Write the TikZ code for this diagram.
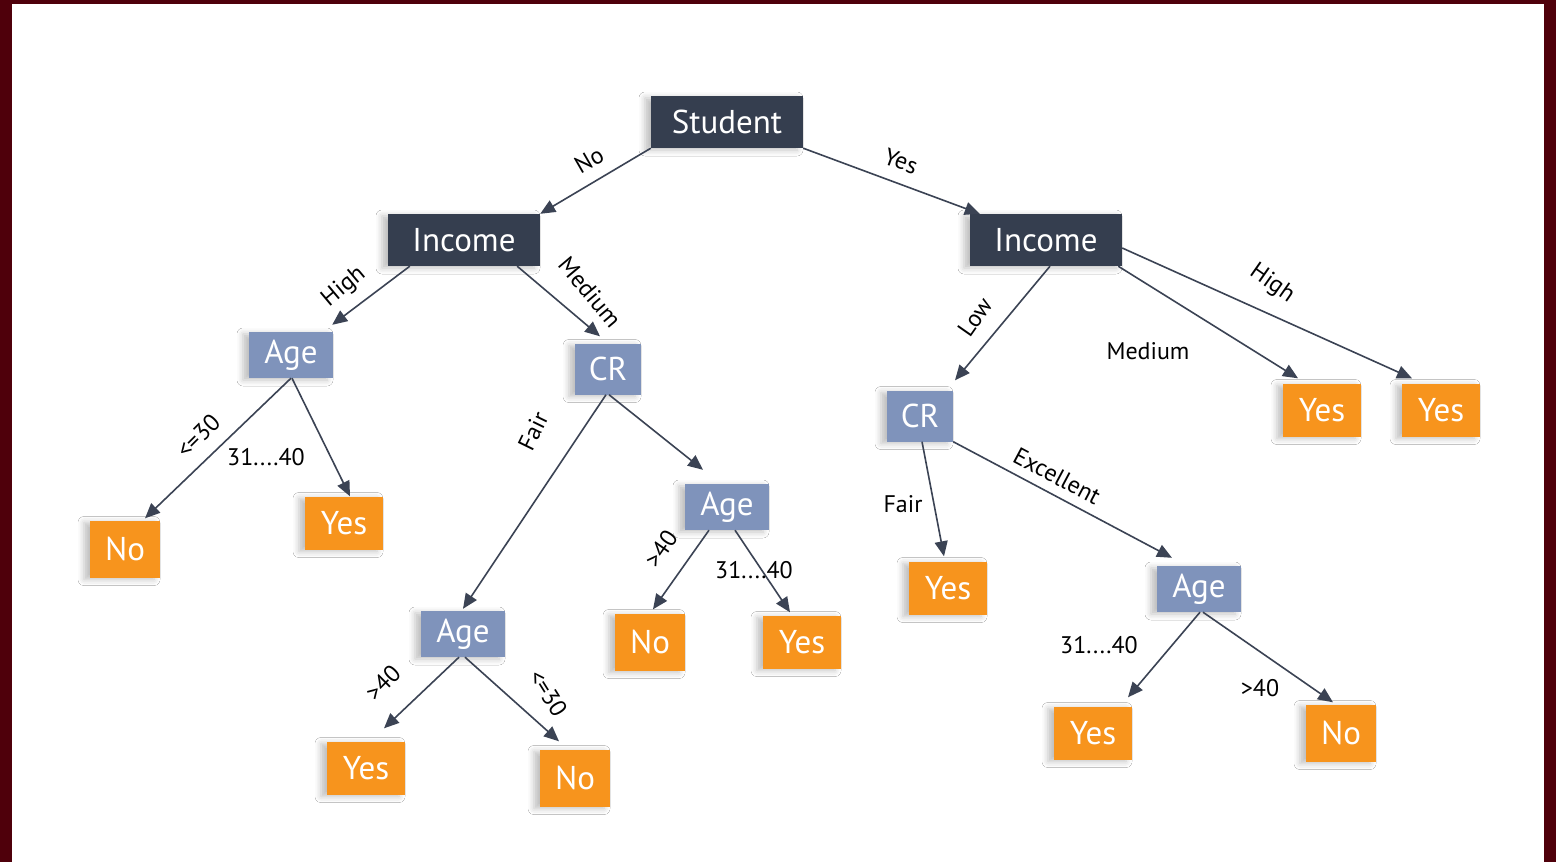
\documentclass[tikz,border=0pt]{standalone}
\usepackage{fontspec}
\setmainfont{PT Sans}
\usetikzlibrary{arrows.meta,shadows.blur}
\definecolor{framec}{HTML}{4F000B}
\definecolor{darkc}{HTML}{353E4F}
\definecolor{midc}{HTML}{7F93BB}
\definecolor{orgc}{HTML}{F7941D}
\definecolor{lnc}{HTML}{3B4354}
\begin{document}
\begin{tikzpicture}[x=1pt,y=-1pt,
  box/.style={inner sep=0pt, text=white, font=\fontsize{33}{33}\selectfont,
    blur shadow={shadow xshift=-6pt,shadow yshift=-2pt,shadow blur radius=6pt,shadow opacity=25}},
  dbox/.style={box, fill=darkc, minimum width=152pt, minimum height=52pt},
  agebox/.style={box, fill=midc, minimum width=84pt, minimum height=46pt},
  crbox/.style={box, fill=midc, minimum width=66pt, minimum height=51pt},
  yesbox/.style={box, fill=orgc, minimum width=78pt, minimum height=53pt},
  nobox/.style={box, fill=orgc, minimum width=70pt, minimum height=57pt},
  arr/.style={draw=lnc, line width=1.6pt, -{Triangle[length=15pt,width=13pt]}},
  lab/.style={font=\fontsize{24}{24}\selectfont, text=black, inner sep=0pt}]
\useasboundingbox (0,0) rectangle (1556,862);
\fill[framec] (0,0) rectangle (1556,862);
\fill[white] (12,4) rectangle (1544,862);
% nodes
\node[dbox] (student) at (727,122) {Student};
\node[dbox] (incL) at (464,240) {Income};
\node[dbox] (incR) at (1046,240) {Income};
\node[agebox] (age1) at (291,355) {Age};
\node[crbox] (cr1) at (608,369) {CR};
\node[nobox] (no1) at (125,549) {No};
\node[yesbox] (yes1) at (344,523) {Yes};
\node[agebox] (age2) at (727,507) {Age};
\node[agebox] (age3) at (463,634) {Age};
\node[nobox] (no2) at (650,642) {No};
\node[yesbox] (yes2) at (802,642) {Yes};
\node[yesbox] (yes3) at (366,768) {Yes};
\node[nobox] (no3) at (575,778) {No};
\node[crbox] (cr2) at (920,416) {CR};
\node[yesbox] (yes4) at (1322,410) {Yes};
\node[yesbox] (yes5) at (1441,410) {Yes};
\node[yesbox] (yes6) at (948,588) {Yes};
\node[agebox] (age4) at (1199,589) {Age};
\node[yesbox] (yes7) at (1093,733) {Yes};
\node[nobox] (no4) at (1341,733) {No};
% connectors
\draw[arr] (student.south west) -- (incL.north east);
\draw[arr] (student.south east) -- ([xshift=10pt]incR.north west);
\draw[arr] ([xshift=22pt]incL.south west) -- ([xshift=-1pt,yshift=7pt]age1.north east);
\draw[arr] ([xshift=-23pt]incL.south east) -- ([xshift=-8pt,yshift=7pt]cr1.north);
\draw[arr] (age1.south) -- ([xshift=20pt,yshift=2pt]no1.north);
\draw[arr] ([xshift=1pt]age1.south) -- ([xshift=6pt]yes1.north);
\draw[arr] ([xshift=-2pt]cr1.south) -- ([yshift=2pt]age3.north);
\draw[arr] ([xshift=1pt]cr1.south) -- ([xshift=-24pt,yshift=14pt]age2.north);
\draw[arr] ([xshift=-18pt]age2.south) -- ([xshift=3pt,yshift=4pt]no2.north);
\draw[arr] ([xshift=8pt]age2.south) -- ([xshift=-12pt,yshift=3pt]yes2.north);
\draw[arr] ([xshift=-4pt]age3.south) -- ([xshift=18pt,yshift=13pt]yes3.north);
\draw[arr] ([xshift=2pt]age3.south) -- ([xshift=-16pt,yshift=8pt]no3.north);
\draw[arr] ([xshift=4pt]incR.south) -- ([xshift=35pt,yshift=10pt]cr2.north);
\draw[arr] ([xshift=-4pt]incR.south east) -- ([xshift=-24pt,yshift=5pt]yes4.north);
\draw[arr] ([yshift=-8pt]incR.east) -- ([xshift=-29pt,yshift=5pt]yes5.north);
\draw[arr] ([xshift=2pt]cr2.south) -- ([xshift=-4pt,yshift=5pt]yes6.north);
\draw[arr] (cr2.south east) -- ([xshift=-27pt,yshift=8pt]age4.north);
\draw[arr] ([xshift=1pt]age4.south) -- ([xshift=35pt,yshift=9pt]yes7.north);
\draw[arr] ([xshift=4pt]age4.south) -- ([xshift=-8pt,yshift=2pt]no4.north);
% labels
\node[lab, rotate=30] (lNo) at (589,160) {No};
\node[lab, rotate=-20] (lYes) at (901,161) {Yes};
\node[lab, rotate=40] (lHighL) at (344,287) {High};
\node[lab, rotate=-50] (lMedL) at (590,292) {Medium};
\node[lab, rotate=45] (lLe30a) at (198,436) {<=30};
\node[lab] (l3140a) at (266,457) {31....40};
\node[lab, rotate=64] (lFairL) at (533,431) {Fair};
\node[lab, rotate=55] (lGt40a) at (661,549) {>40};
\node[lab] (l3140b) at (754,570) {31....40};
\node[lab, rotate=45] (lGt40b) at (383,683) {>40};
\node[lab, rotate=-58] (lLe30b) at (548,693) {<=30};
\node[lab, rotate=55] (lLow) at (975,317) {Low};
\node[lab] (lMedR) at (1148,351) {Medium};
\node[lab, rotate=-35] (lHighR) at (1272,284) {High};
\node[lab] (lFairR) at (903,504) {Fair};
\node[lab, rotate=-28] (lExc) at (1057,476) {Excellent};
\node[lab] (l3140c) at (1099,645) {31....40};
\node[lab] (lGt40c) at (1260,688) {>40};
\end{tikzpicture}
\end{document}
